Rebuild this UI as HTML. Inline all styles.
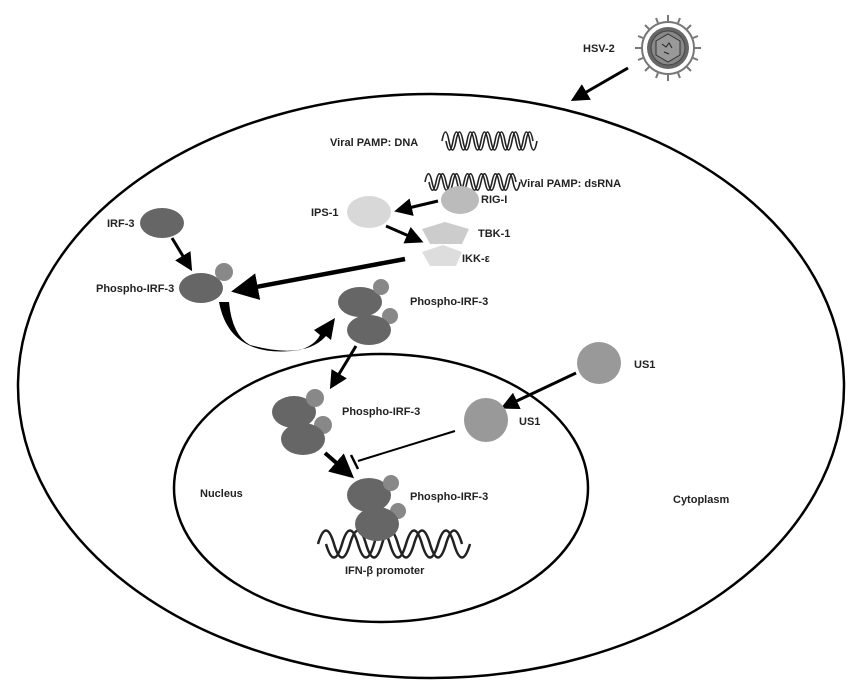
<!DOCTYPE html>
<html><head><meta charset="utf-8"><style>
body{margin:0;background:#fff}
svg{display:block}
text{font-family:"Liberation Sans",sans-serif;font-weight:bold;font-size:11px;fill:#222}
</style></head><body>
<svg width="859" height="692" viewBox="0 0 859 692" xmlns="http://www.w3.org/2000/svg">
<defs>
<marker id="ah" markerWidth="6" markerHeight="6" refX="4" refY="3" orient="auto" markerUnits="strokeWidth"><path d="M0,0 L6,3 L0,6 Z" fill="#000"/></marker>
</defs>
<ellipse cx="431" cy="386" rx="413" ry="292" fill="none" stroke="#000" stroke-width="2.5"/>
<ellipse cx="381" cy="488" rx="207" ry="134" fill="none" stroke="#000" stroke-width="2.5"/>

<!-- virus -->
<g transform="translate(668,48)">
<g stroke="#777" stroke-width="2">
<line x1="0" y1="-33" x2="0" y2="-27"/><line x1="0" y1="33" x2="0" y2="27"/>
<line x1="-33" y1="0" x2="-27" y2="0"/><line x1="33" y1="0" x2="27" y2="0"/>
<line x1="23" y1="23" x2="19" y2="19"/><line x1="-23" y1="23" x2="-19" y2="19"/>
<line x1="23" y1="-23" x2="19" y2="-19"/><line x1="-23" y1="-23" x2="-19" y2="-19"/>
<line x1="12" y1="-30" x2="10" y2="-25"/><line x1="-12" y1="-30" x2="-10" y2="-25"/>
<line x1="12" y1="30" x2="10" y2="25"/><line x1="-12" y1="30" x2="-10" y2="25"/>
<line x1="30" y1="12" x2="25" y2="10"/><line x1="30" y1="-12" x2="25" y2="-10"/>
<line x1="-30" y1="12" x2="-25" y2="10"/><line x1="-30" y1="-12" x2="-25" y2="-10"/>
</g>
<circle r="26" fill="#fff" stroke="#777" stroke-width="2"/>
<circle r="21" fill="#666"/>
<circle r="17" fill="#888" stroke="#444"/>
<polygon points="0,-14 12,-7 12,7 0,14 -12,7 -12,-7" fill="#999" stroke="#333"/>
<path d="M-6,-4 l4,3 l3,-4 l3,5 M-4,4 l5,2" stroke="#222" fill="none"/>
</g>
<text x="583" y="52" font-size="12">HSV-2</text>
<line x1="628" y1="68" x2="576" y2="98" stroke="#000" stroke-width="3" marker-end="url(#ah)"/>

<!-- DNA -->
<text x="330" y="146">Viral PAMP: DNA</text>
<g fill="none" stroke="#222" stroke-width="1.6">
<path d="M442,141 c2.3,-12 4.7,-12 7,0 s4.7,12 7,0 s4.7,-12 7,0 s4.7,12 7,0 s4.7,-12 7,0 s4.7,12 7,0 s4.7,-12 7,0 s4.7,12 7,0 s4.7,-12 7,0 s4.7,12 7,0 s4.7,-12 7,0 s4.7,12 7,0 s4.7,-12 7,0"/>
<path d="M446,141 c2.3,12 4.7,12 7,0 s4.7,-12 7,0 s4.7,12 7,0 s4.7,-12 7,0 s4.7,12 7,0 s4.7,-12 7,0 s4.7,12 7,0 s4.7,-12 7,0 s4.7,12 7,0 s4.7,-12 7,0 s4.7,12 7,0 s4.7,-12 7,0 s4.7,12 7,0"/>
<path d="M425,182 c2.3,-11 4.7,-11 7,0 s4.7,11 7,0 s4.7,-11 7,0 s4.7,11 7,0 s4.7,-11 7,0 s4.7,11 7,0 s4.7,-11 7,0 s4.7,11 7,0 s4.7,-11 7,0 s4.7,11 7,0 s4.7,-11 7,0 s4.7,11 7,0 s4.7,-11 7,0"/>
<path d="M429,182 c2.3,11 4.7,11 7,0 s4.7,-11 7,0 s4.7,11 7,0 s4.7,-11 7,0 s4.7,11 7,0 s4.7,-11 7,0 s4.7,11 7,0 s4.7,-11 7,0 s4.7,11 7,0 s4.7,-11 7,0 s4.7,11 7,0 s4.7,-11 7,0 s4.7,11 7,0"/>
<path d="M318,544 c5.3,-18 10.7,-18 16,0 s10.7,18 16,0 s10.7,-18 16,0 s10.7,18 16,0 s10.7,-18 16,0 s10.7,18 16,0 s10.7,-18 16,0 s10.7,18 16,0 s10.7,-18 16,0" stroke-width="2.5"/>
<path d="M326,544 c5.3,18 10.7,18 16,0 s10.7,-18 16,0 s10.7,18 16,0 s10.7,-18 16,0 s10.7,18 16,0 s10.7,-18 16,0 s10.7,18 16,0 s10.7,-18 16,0 s10.7,18 16,0" stroke-width="2.5"/>
</g>
<text x="520" y="187">Viral PAMP: dsRNA</text>

<!-- RIG-I, IPS-1, TBK, IKK -->
<ellipse cx="460" cy="200" rx="19" ry="14" fill="#bbb"/>
<text x="481" y="203">RIG-I</text>
<ellipse cx="369" cy="212" rx="22" ry="16" fill="#d8d8d8"/>
<text x="311" y="216">IPS-1</text>
<line x1="438" y1="201" x2="400" y2="210" stroke="#000" stroke-width="3" marker-end="url(#ah)"/>
<line x1="386" y1="226" x2="418" y2="240" stroke="#000" stroke-width="3" marker-end="url(#ah)"/>
<polygon points="445,222 469,229 462,244 430,244 422,229" fill="#ccc"/>
<text x="478" y="237">TBK-1</text>
<polygon points="443,245 462,252 456,266 430,266 422,252" fill="#ddd"/>
<text x="462" y="262">IKK-ε</text>

<!-- IRF-3 -->
<ellipse cx="162" cy="223" rx="22" ry="15" fill="#666"/>
<text x="107" y="227">IRF-3</text>
<line x1="172" y1="238" x2="189" y2="266" stroke="#000" stroke-width="3" marker-end="url(#ah)"/>
<ellipse cx="201" cy="288" rx="22" ry="15" fill="#666"/>
<circle cx="224" cy="272" r="9" fill="#888"/>
<text x="96" y="292">Phospho-IRF-3</text>
<line x1="405" y1="259" x2="240" y2="290" stroke="#000" stroke-width="4.5" marker-end="url(#ah)"/>
<path d="M219,302 Q230,360 300,350 Q315,345 320,335 L314,330 L335,318 L331,340 L326,336 Q305,360 250,345 Q232,335 229,302 Z" fill="#000"/>

<!-- dimer cytoplasm -->
<ellipse cx="360" cy="302" rx="22" ry="15" fill="#666"/>
<circle cx="381" cy="287" r="8" fill="#888"/>
<circle cx="390" cy="316" r="8" fill="#888"/>
<ellipse cx="369" cy="330" rx="22" ry="15" fill="#666"/>
<text x="410" y="305">Phospho-IRF-3</text>
<line x1="356" y1="346" x2="333" y2="384" stroke="#000" stroke-width="3" marker-end="url(#ah)"/>

<!-- nucleus dimer -->
<ellipse cx="294" cy="412" rx="22" ry="16" fill="#666"/>
<circle cx="315" cy="398" r="9" fill="#888"/>
<circle cx="323" cy="425" r="9" fill="#888"/>
<ellipse cx="303" cy="439" rx="22" ry="16" fill="#666"/>
<text x="342" y="415">Phospho-IRF-3</text>
<line x1="325" y1="453" x2="348" y2="473" stroke="#000" stroke-width="4" marker-end="url(#ah)"/>

<!-- US1 -->
<ellipse cx="599" cy="363" rx="22" ry="21" fill="#999"/>
<text x="634" y="368">US1</text>
<line x1="576" y1="373" x2="506" y2="406" stroke="#000" stroke-width="3" marker-end="url(#ah)"/>
<ellipse cx="486" cy="420" rx="22" ry="22" fill="#999"/>
<text x="519" y="425">US1</text>
<line x1="455" y1="431" x2="358" y2="461" stroke="#000" stroke-width="2"/>
<line x1="351" y1="455" x2="358" y2="469" stroke="#000" stroke-width="2.5"/>

<!-- bottom dimer -->
<ellipse cx="369" cy="495" rx="22" ry="17" fill="#666"/>
<circle cx="391" cy="483" r="8" fill="#888"/>
<circle cx="398" cy="511" r="8" fill="#888"/>
<ellipse cx="377" cy="524" rx="22" ry="17" fill="#666"/>
<text x="410" y="500">Phospho-IRF-3</text>

<text x="200" y="497" font-size="12">Nucleus</text>
<text x="673" y="503" font-size="12">Cytoplasm</text>
<text x="345" y="574" font-size="12">IFN-β promoter</text>
</svg>
</body></html>
